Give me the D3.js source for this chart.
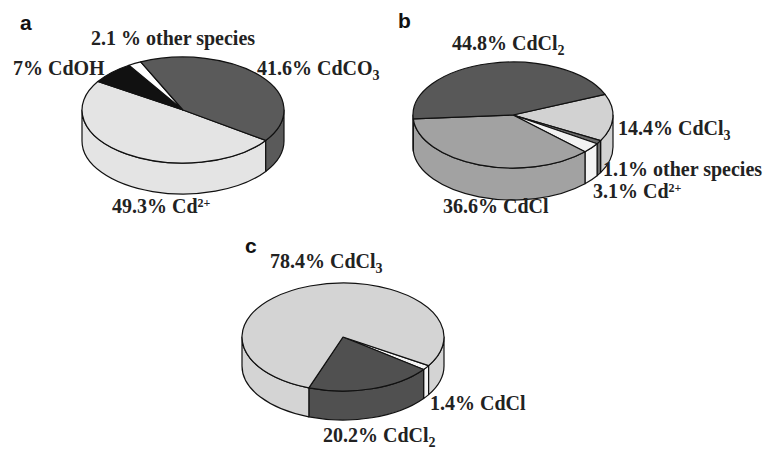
<!DOCTYPE html>
<html>
<head>
<meta charset="utf-8">
<script src="https://cdn.jsdelivr.net/npm/d3@7"></script>
<style>
  body { margin: 0; background: #fff; }
  .lbl { font-family: "Liberation Serif", "Times New Roman", serif; font-weight: bold; font-size: 20px; fill: #222; }
  .panel { font-family: "Liberation Sans", Arial, sans-serif; font-weight: bold; font-size: 21px; fill: #111; }
</style>
</head>
<body>
<div id="chart"></div>
<script>
// ---- data (clockwise order of slices) ----
const speciesA = ["Cd2+", "CdOH", "other species", "CdCO3"];
const valuesA = [49.3, 7, 2.1, 41.6];
const labelsA = ["49.3% Cd^{2+}", "7% CdOH", "2.1 % other species", "41.6% CdCO_3"];

const speciesB = ["CdCl3", "other species", "Cd2+", "CdCl", "CdCl2"];
const valuesB = [14.4, 1.1, 3.1, 36.6, 44.8];
const labelsB = ["14.4% CdCl_3", "1.1% other species", "3.1% Cd^{2+}", "36.6% CdCl", "44.8% CdCl_2"];

const speciesC = ["CdCl", "CdCl2", "CdCl3"];
const valuesC = [1.4, 20.2, 78.4];
const labelsC = ["1.4% CdCl", "20.2% CdCl_2", "78.4% CdCl_3"];

// ---- styles / layout ----
const fillsA = ["#e4e4e4", "#111111", "#ffffff", "#5a5a5a"];
const fillsB = ["#d2d2d2", "#6a6a6a", "#f2f2f2", "#a2a2a2", "#585858"];
const fillsC = ["#f4f4f4", "#505050", "#d4d4d4"];

const width = 772, height = 450;
const deg = Math.PI / 180;

const pies = [
  { letter: "a", values: valuesA, labels: labelsA, fills: fillsA,
    cx: 183, cy: 110, rx: 101, ry: 53, depth: 31, start: 125, letterPos: [20, 30],
    labelPos: [[112, 213], [13, 75], [91, 45], [257, 75]] },
  { letter: "b", values: valuesB, labels: labelsB, fills: fillsB,
    cx: 513, cy: 115, rx: 100, ry: 53, depth: 32, start: 67, letterPos: [398, 28],
    labelPos: [[618, 135], [603, 176], [593, 198], [443, 213], [452, 50]] },
  { letter: "c", values: valuesC, labels: labelsC, fills: fillsC,
    cx: 343, cy: 337, rx: 101, ry: 54, depth: 29, start: 122, letterPos: [245, 253],
    labelPos: [[430, 410], [323, 442], [270, 268]] }
];

const svg = d3.select("#chart").append("svg")
  .attr("width", width)
  .attr("height", height);

// point on the top ellipse for a d3 pie angle (0 = 12 o'clock, clockwise)
function pt(p, a) {
  return [p.cx + p.rx * Math.sin(a), p.cy - p.ry * Math.cos(a)];
}

// front (visible) part of the rim between angles a0..a1
function sidePieces(a0, a1) {
  const out = [];
  for (let k = -1; k <= 2; k++) {
    const s = Math.max(a0, (90 + 360 * k) * deg);
    const e = Math.min(a1, (270 + 360 * k) * deg);
    if (e > s + 1e-6) out.push([s, e]);
  }
  return out;
}

function sidePath(p, s, e) {
  const [x0, y0] = pt(p, s), [x1, y1] = pt(p, e);
  return `M${x0},${y0}A${p.rx},${p.ry} 0 0 1 ${x1},${y1}` +
    `L${x1},${y1 + p.depth}A${p.rx},${p.ry} 0 0 0 ${x0},${y0 + p.depth}Z`;
}

function addLabel(g, str, x, y) {
  const t = g.append("text").attr("class", "lbl").attr("x", x).attr("y", y);
  const m = str.match(/^(.*?)(?:\^\{(.+)\}|_(.+))?$/);
  t.append("tspan").text(m[1]);
  if (m[2]) t.append("tspan").attr("font-size", 12).attr("dy", -6).text(m[2]);
  if (m[3]) t.append("tspan").attr("font-size", 14).attr("dy", 5).text(m[3]);
}

pies.forEach(p => {
  const g = svg.append("g");
  const arcs = d3.pie().sort(null)
    .startAngle(p.start * deg)
    .endAngle((p.start + 360) * deg)(p.values);

  // rim (sides)
  arcs.forEach((d, i) => {
    sidePieces(d.startAngle, d.endAngle).forEach(([s, e]) => {
      g.append("path")
        .attr("d", sidePath(p, s, e))
        .attr("fill", p.fills[i])
        .attr("stroke", "#111")
        .attr("stroke-width", 1.2)
        .attr("stroke-linejoin", "round");
    });
  });

  // tops, drawn as circular arcs squashed to an ellipse
  const arc = d3.arc().innerRadius(0).outerRadius(p.rx);
  g.append("g")
    .attr("transform", `translate(${p.cx},${p.cy}) scale(1,${p.ry / p.rx})`)
    .selectAll("path")
    .data(arcs)
    .join("path")
    .attr("d", arc)
    .attr("fill", (d, i) => p.fills[i])
    .attr("stroke", "#111")
    .attr("stroke-width", 1.2)
    .attr("stroke-linejoin", "round")
    .attr("vector-effect", "non-scaling-stroke");

  // labels
  p.labels.forEach((s, i) => addLabel(g, s, p.labelPos[i][0], p.labelPos[i][1]));
  g.append("text").attr("class", "panel")
    .attr("x", p.letterPos[0]).attr("y", p.letterPos[1])
    .text(p.letter);
});
</script>
</body>
</html>
